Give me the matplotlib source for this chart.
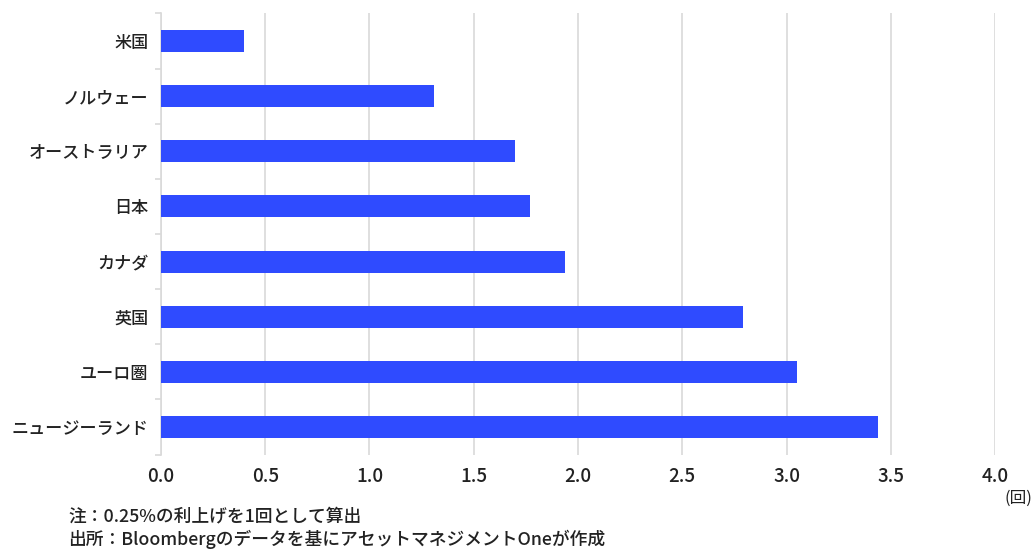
import matplotlib
matplotlib.use("Agg")
import matplotlib.pyplot as plt
import numpy as np

plt.rcParams['font.family'] = ['Noto Sans CJK JP', 'DejaVu Sans']

# data (top to bottom)
countries = ["米国", "ノルウェー", "オーストラリア", "日本", "カナダ", "英国", "ユーロ圏", "ニュージーランド"]
hikes = [0.40, 1.31, 1.70, 1.77, 1.94, 2.79, 3.05, 3.44]
xticks = [0.0, 0.5, 1.0, 1.5, 2.0, 2.5, 3.0, 3.5, 4.0]

bar_color = "#2f4bff"
grid_color = "#d9d9d9"
text_color = "#222222"

fig = plt.figure(figsize=(10.34, 5.49), dpi=100)
ax = fig.add_axes([0.1557, 0.172, 0.8066, 0.8036])

y = np.arange(len(countries))
ax.barh(y, hikes, height=0.4, color=bar_color, zorder=3)

ax.set_xlim(0, 4.0)
ax.set_ylim(len(countries) - 0.5, -0.5)
ax.set_xticks(xticks)
ax.set_xticklabels([f"{t:.1f}" for t in xticks], fontsize=13.5, color=text_color,
                   fontweight='medium')
ax.set_yticks(y)
ax.set_yticklabels(countries, fontsize=12.3, color=text_color, fontweight='medium')

# tick marks only at category boundaries
ax.set_yticks(np.arange(-0.5, len(countries), 1.0), minor=True)
ax.tick_params(axis='y', which='major', length=0, pad=9)
ax.tick_params(axis='y', which='minor', length=4, color=grid_color, width=1.2)
ax.tick_params(axis='x', length=0, pad=9)

ax.grid(axis='x', color=grid_color, linewidth=1.2, zorder=0)
for side in ['top', 'right', 'bottom']:
    ax.spines[side].set_visible(False)
ax.spines['left'].set_color(grid_color)
ax.spines['left'].set_linewidth(1.2)

fig.text(0.9845, 0.092, "(回)", fontsize=12, color=text_color, ha='center', va='center')
fig.text(0.066, 0.06, "注：0.25%の利上げを1回として算出", fontsize=12.8, color=text_color,
         va='center', fontweight='medium')
fig.text(0.066, 0.017, "出所：Bloombergのデータを基にアセットマネジメントOneが作成", fontsize=12.8,
         color=text_color, va='center', fontweight='medium')

fig.savefig("out.png", dpi=100)
